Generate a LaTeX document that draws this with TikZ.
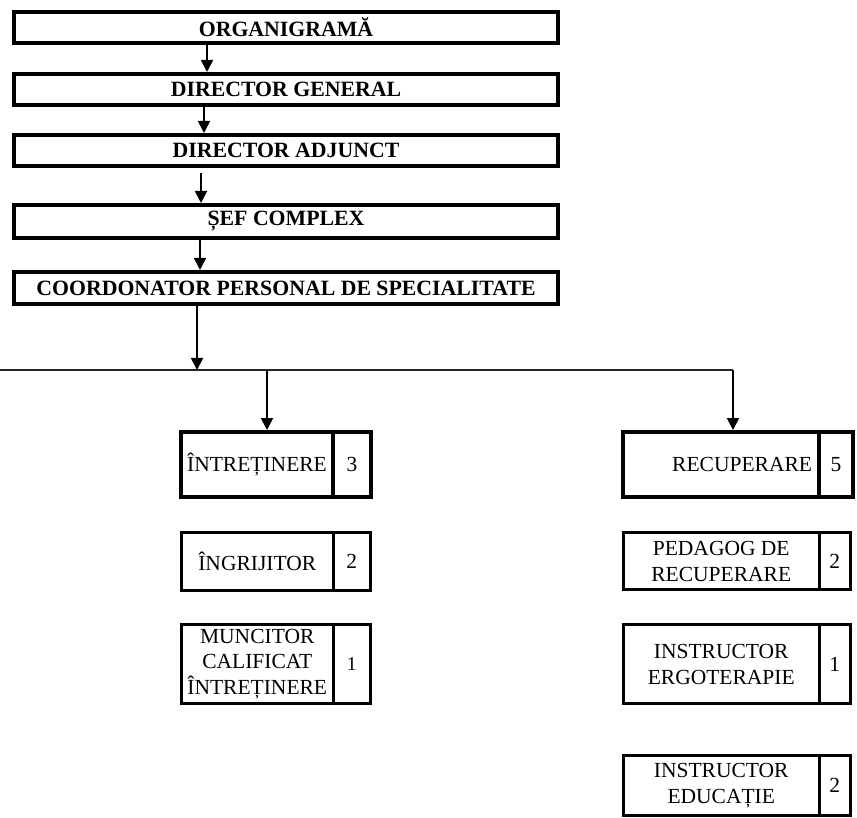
\documentclass[tikz,border=0pt]{standalone}
\usepackage{fontspec}
\setmainfont{Liberation Serif}
\usepackage{tikz}
\usetikzlibrary{arrows.meta, positioning}

\begin{document}
\begin{tikzpicture}[x=1pt, y=-1pt,
  every node/.style={font=\fontsize{21.5}{26}\selectfont, inner sep=0pt, outer sep=0pt, align=center},
  headbox/.style={draw, line width=4.5pt, minimum width=544pt, minimum height=31pt, font=\fontsize{21.8}{26}\selectfont\bfseries},
  thickcell/.style={draw, line width=4.5pt},
  thincell/.style={draw, line width=3pt},
  arr/.style={line width=1.8pt, -{Triangle[length=12pt, width=12pt]}},
  bus/.style={line width=1.6pt, draw=black!85}]
  \useasboundingbox (0,0) rectangle (857,818);

  % Management chain
  \node[headbox] (org) at (286,27.5) {ORGANIGRAMĂ};
  \node[headbox] (dirgen) at (286,89.5) {DIRECTOR GENERAL};
  \node[headbox] (diradj) at (286,150.5) {DIRECTOR ADJUNCT};
  \node[headbox, minimum height=33pt] (sef) at (286,221.5) {ȘEF COMPLEX};
  \node[headbox, minimum height=32pt] (coord) at (286,288) {COORDONATOR PERSONAL DE SPECIALITATE};

  \coordinate (x1) at (207,0);
  \coordinate (x2) at (204,0);
  \coordinate (a3) at (201,173);
  \coordinate (x4) at (200,0);
  \coordinate (x5) at (197,0);
  \draw[arr, shorten >=2pt] (org.south -| x1) -- (dirgen.north -| x1);
  \draw[arr, shorten >=2pt] (dirgen.south -| x2) -- (diradj.north -| x2);
  \draw[arr, shorten >=2pt] (a3) -- (sef.north -| a3);
  \draw[arr, shorten >=2pt] (sef.south -| x4) -- (coord.north -| x4);

  % Left column
  \node[thickcell, minimum width=152pt, minimum height=65pt] (intr) at (257,464.5) {ÎNTREȚINERE};
  \node[thickcell, minimum width=38pt, minimum height=65pt, anchor=west] (intrnum) at (intr.east) {3};
  \node[thincell, minimum width=151.5pt, minimum height=58pt] (ingr) at (257.25,561.5) {ÎNGRIJITOR};
  \node[thincell, minimum width=37.5pt, minimum height=58pt, anchor=west] (ingrnum) at (ingr.east) {2};
  \node[thincell, minimum width=151.5pt, minimum height=79pt, font=\fontsize{21.5}{25.5}\selectfont] (munc) at (257.25,664) {MUNCITOR\\CALIFICAT\\ÎNTREȚINERE};
  \node[thincell, minimum width=37.5pt, minimum height=79pt, anchor=west, font=\fontsize{19.5}{22}\selectfont] (muncnum) at (munc.east) {1};

  % Right column
  \node[thickcell, minimum height=65pt, text width=182pt, align=right, inner xsep=7pt] (recup) at (721,464.5) {RECUPERARE};
  \node[thickcell, minimum width=34pt, minimum height=65pt, anchor=west] (recupnum) at (recup.east) {5};
  \node[thincell, minimum width=195.5pt, minimum height=57pt] (ped) at (721.25,561) {PEDAGOG DE\\RECUPERARE};
  \node[thincell, minimum width=31.5pt, minimum height=57pt, anchor=west] (pednum) at (ped.east) {2};
  \node[thincell, minimum width=195.5pt, minimum height=79pt] (ergo) at (721.25,664) {INSTRUCTOR\\ERGOTERAPIE};
  \node[thincell, minimum width=31.5pt, minimum height=79pt, anchor=west] (ergonum) at (ergo.east) {1};
  \node[thincell, minimum width=195.5pt, minimum height=60pt] (educ) at (721.25,785.5) {INSTRUCTOR\\EDUCAȚIE};
  \node[thincell, minimum width=31.5pt, minimum height=60pt, anchor=west] (educnum) at (educ.east) {2};

  % Distribution line
  \coordinate (busL) at (0,370);
  \coordinate (dropL) at (267,370);
  \coordinate (busR) at (733,370);
  \draw[bus] (busL) -- (busR);
  \draw[arr] (coord.south -| x5) -- (busL -| x5);
  \draw[arr, shorten >=2pt] (dropL) -- (dropL |- intr.north);
  \draw[arr, shorten >=2pt] (busR) -- (busR |- recup.north);
\end{tikzpicture}
\end{document}
